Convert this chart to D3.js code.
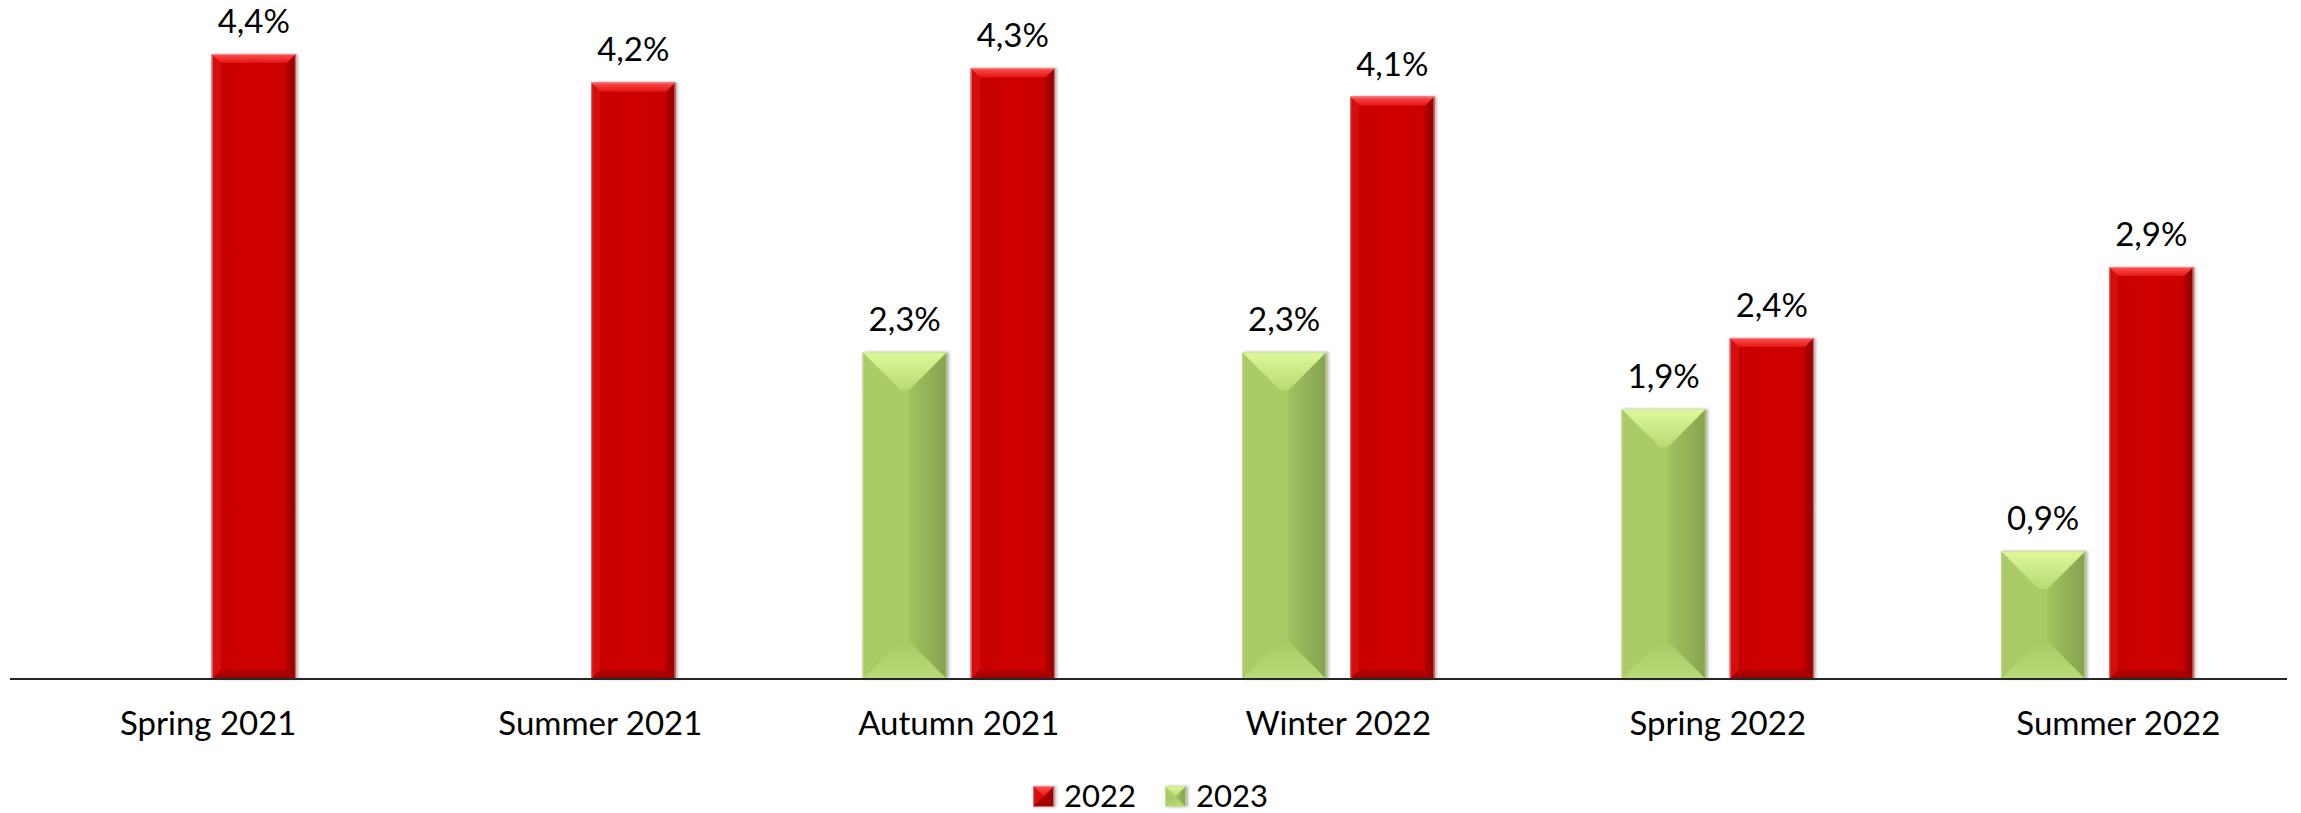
<!DOCTYPE html>
<html>
<head>
<meta charset="utf-8">
<script src="https://cdn.jsdelivr.net/npm/d3@7"></script>
<style>
  body { margin: 0; background: #fff; }
  text { font-family: Lato, "Noto Sans", sans-serif; fill: #000; }
</style>
</head>
<body>
<div class="canvas"></div>
<script>
// data
const categories = ['  Spring 2021', '     Summer 2021', 'Autumn 2021', 'Winter 2022', 'Spring 2022', '     Summer 2022'];
const values2022 = [4.4, 4.2, 4.3, 4.1, 2.4, 2.9];
const values2023 = [null, null, 2.3, 2.3, 1.9, 0.9];
const seriesNames = ['2023', '2022']; // draw order within a category
const legendNames = ['2022', '2023'];

// dimensions
const dims = { width: 2301, height: 813 };
const plot = { left: 10, right: 2287, top: 54, base: 679 };

const svg = d3.select('.canvas')
    .append('svg')
    .attr('width', dims.width)
    .attr('height', dims.height);

const defs = svg.append('defs');

// colours for the bevel pieces
const palette = {
    '2022': {
        base: ['#c40404', '#cf0606', '#cc0505', '#a30000'],
        top: ['#ff5050', '#e41616'],
        bottom: ['#b40404', '#9c0000'],
        left: '#d50b0b',
        right: ['#b00303', '#8e0000'],
        edge: '#f2a0a0'
    },
    '2023': {
        base: ['#a6c864', '#abcc68', '#a4c563', '#8fab55'],
        top: ['#def79a', '#b9d975'],
        bottom: ['#a9ca67', '#b9da77'],
        left: '#aacb67',
        right: ['#a2c261', '#87a24e'],
        edge: '#c9e29c'
    }
};

// gradients (objectBoundingBox, so one per piece is enough)
const linear = (id, stops, vertical) => {
    const g = defs.append('linearGradient')
        .attr('id', id)
        .attr('x1', 0).attr('y1', 0)
        .attr('x2', vertical ? 0 : 1).attr('y2', vertical ? 1 : 0);
    stops.forEach((c, i) => g.append('stop')
        .attr('offset', stops.length === 4 ? [0, 0.45, 0.85, 1][i] : i / (stops.length - 1))
        .attr('stop-color', c));
};
Object.keys(palette).forEach(k => {
    const p = palette[k];
    linear(`base-${k}`, p.base, false);
    linear(`top-${k}`, p.top, true);
    linear(`bottom-${k}`, p.bottom, true);
    linear(`right-${k}`, p.right, false);
});

const shadow = defs.append('filter').attr('id', 'shadow')
    .attr('x', '-10%').attr('y', '-10%').attr('width', '130%').attr('height', '120%');
shadow.append('feDropShadow')
    .attr('dx', 2).attr('dy', 0).attr('stdDeviation', 1.5)
    .attr('flood-color', '#000').attr('flood-opacity', 0.3);

// scales
const x0 = d3.scaleBand()
    .domain(categories)
    .range([plot.left, plot.right])
    .padding(0);

const x1 = d3.scaleBand()
    .domain(seriesNames)
    .range([0, x0.bandwidth()])
    .paddingInner(0.222)
    .paddingOuter(0.867);

const y = d3.scaleLinear()
    .domain([0, 4.4])
    .range([plot.base, plot.top]);

const locale = d3.formatLocale({ decimal: ',', thousands: ' ', grouping: [3], currency: ['', '%'] });
const fmt = v => locale.format('.1f')(v) + '%';

// bevelled box: base rect plus four trapezoids
const bevel = (g, x, yy, w, h, d, key) => {
    const p = palette[key];
    d = Math.min(d, w / 2, h / 2);
    const grp = g.append('g').attr('filter', 'url(#shadow)');
    grp.append('rect')
        .attr('x', x).attr('y', yy).attr('width', w).attr('height', h)
        .attr('fill', `url(#base-${key})`);
    const pieces = [
        { pts: [[x, yy], [x + d, yy + d], [x + d, yy + h - d], [x, yy + h]], fill: p.left },
        { pts: [[x + w, yy], [x + w - d, yy + d], [x + w - d, yy + h - d], [x + w, yy + h]], fill: `url(#right-${key})` },
        { pts: [[x, yy], [x + w, yy], [x + w - d, yy + d], [x + d, yy + d]], fill: `url(#top-${key})` },
        { pts: [[x, yy + h], [x + w, yy + h], [x + w - d, yy + h - d], [x + d, yy + h - d]], fill: `url(#bottom-${key})` }
    ];
    grp.selectAll('polygon')
        .data(pieces)
        .enter()
        .append('polygon')
        .attr('points', pc => pc.pts.map(pt => pt.join(',')).join(' '))
        .attr('fill', pc => pc.fill);
    grp.append('rect')
        .attr('x', x + 0.5).attr('y', yy + 0.5).attr('width', w - 1).attr('height', h - 1)
        .attr('fill', 'none')
        .attr('stroke', p.edge)
        .attr('stroke-opacity', 0.7)
        .attr('stroke-width', 1);
};

// rows for the bars
const rows = categories.map((c, i) => ({ cat: c, '2022': values2022[i], '2023': values2023[i] }));

const graph = svg.append('g');

rows.forEach(r => {
    seriesNames.forEach(s => {
        const v = r[s];
        if (v == null) return;
        const bx = x0(r.cat) + x1(s);
        const bw = x1.bandwidth();
        const by = y(v);
        const bh = y(0) - y(v);
        const depth = s === '2023' ? bw * 0.45 : 9;
        bevel(graph, bx, by, bw, bh, depth, s);

        // value label
        graph.append('text')
            .attr('x', bx + bw / 2)
            .attr('y', by - 21)
            .attr('text-anchor', 'middle')
            .style('font-size', '33px')
            .text(fmt(v));
    });
});

// baseline axis
svg.append('line')
    .attr('x1', plot.left).attr('x2', plot.right)
    .attr('y1', y(0)).attr('y2', y(0))
    .attr('stroke', '#262626')
    .attr('stroke-width', 2);

// category labels
svg.append('g')
    .selectAll('text')
    .data(categories)
    .enter()
    .append('text')
    .attr('x', d => x0(d) + x0.bandwidth() / 2)
    .attr('y', 735)
    .attr('text-anchor', 'middle')
    .style('font-size', '33px')
    .style('white-space', 'pre')
    .text(d => d);

// legend
const legend = svg.append('g');
const items = legendNames.map(n => {
    const t = legend.append('text')
        .attr('y', 807)
        .style('font-size', '31px')
        .text(n);
    return { name: n, text: t, width: t.node().getComputedTextLength() };
});
const sq = 21, gapIn = 10, gapOut = 29;
const total = d3.sum(items, it => sq + gapIn + it.width) + gapOut * (items.length - 1);
let lx = dims.width / 2 - total / 2;
items.forEach(it => {
    bevel(legend, lx, 786, sq, sq, sq / 2, it.name);
    it.text.attr('x', lx + sq + gapIn);
    lx += sq + gapIn + it.width + gapOut;
});
</script>
</body>
</html>
